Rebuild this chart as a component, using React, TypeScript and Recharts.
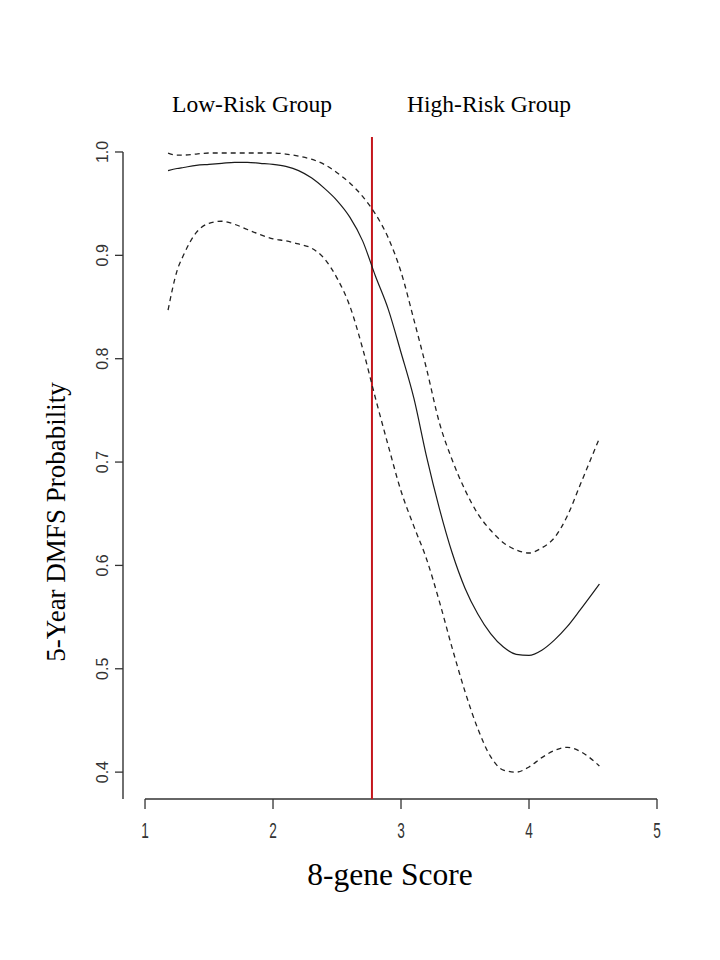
import { LineChart, Line, XAxis, YAxis, ReferenceLine } from "recharts";

// 8-gene score grid and the fitted 5-year DMFS probability with its band
const scores = [
  1.18, 1.25, 1.3, 1.4, 1.5, 1.6, 1.7, 1.8, 1.9, 2.0, 2.1, 2.2, 2.3, 2.4, 2.5,
  2.6, 2.7, 2.8, 2.9, 3.0, 3.1, 3.2, 3.3, 3.4, 3.5, 3.6, 3.7, 3.8, 3.9, 4.0,
  4.1, 4.2, 4.3, 4.4, 4.55,
];
const estimate = [
  0.982, 0.984, 0.985, 0.987, 0.988, 0.989, 0.99, 0.99, 0.989, 0.988, 0.986,
  0.982, 0.975, 0.965, 0.953, 0.937, 0.914, 0.88, 0.848, 0.806, 0.762, 0.705,
  0.655, 0.612, 0.578, 0.553, 0.534, 0.521, 0.514, 0.513, 0.518, 0.528, 0.541,
  0.557, 0.582,
];
const upperBand = [
  0.999, 0.997, 0.997, 0.998, 0.999, 0.999, 0.999, 0.999, 0.999, 0.999, 0.998,
  0.996, 0.993, 0.988, 0.98, 0.97, 0.957, 0.94, 0.917, 0.884, 0.838, 0.79,
  0.738, 0.702, 0.673, 0.65, 0.634, 0.622, 0.615, 0.612, 0.617, 0.627, 0.648,
  0.678, 0.723,
];
const lowerBand = [
  0.847, 0.885, 0.9, 0.922, 0.931, 0.933, 0.93, 0.925, 0.92, 0.916, 0.914,
  0.911, 0.907, 0.897, 0.878, 0.851, 0.81, 0.762, 0.716, 0.672, 0.638, 0.606,
  0.565, 0.52, 0.478, 0.442, 0.415, 0.402, 0.4, 0.405, 0.414, 0.421, 0.424,
  0.42, 0.406,
];

const xTicks = [1, 2, 3, 4, 5];
const yTicks = [0.4, 0.5, 0.6, 0.7, 0.8, 0.9, 1.0];
const cutoff = 2.773;
const groupLabels = ["Low-Risk Group", "High-Risk Group"];

const X_MIN = 0.828;
const Y_MIN = 0.374;
const Y_MAX = 1.0145;

const data = scores.map((s, i) => ({
  score: s,
  est: estimate[i],
  hi: upperBand[i],
  lo: lowerBand[i],
}));

const XTick = (props: any) => {
  const { x, y, payload } = props;
  return (
    <g transform={`translate(${x},${y})`}>
      <text
        transform="scale(0.62,1)"
        dy="0.72em"
        textAnchor="middle"
        fontFamily="'Liberation Sans', Arial, sans-serif"
        fontSize={22}
        fill="#333"
      >
        {payload.value}
      </text>
    </g>
  );
};

const YTick = (props: any) => {
  const { x, y, payload } = props;
  return (
    <text
      transform={`translate(${x},${y}) rotate(-90)`}
      textAnchor="middle"
      fontFamily="'Liberation Sans', Arial, sans-serif"
      fontSize={16}
      fill="#333"
    >
      {Number(payload.value).toFixed(1)}
    </text>
  );
};

const serif = "'Liberation Serif', 'Times New Roman', serif";

export default function App() {
  return (
    <div style={{ position: "absolute", left: 0, top: 0, width: 720, height: 960, background: "#fff" }}>
      <LineChart
        width={720}
        height={960}
        data={data}
        margin={{ top: 137, right: 63, bottom: 101, left: 63 }}
      >
        <XAxis
          type="number"
          dataKey="score"
          domain={[X_MIN, 5]}
          ticks={xTicks}
          allowDataOverflow
          axisLine={false}
          tickLine={{ stroke: "#333", strokeWidth: 1.3 }}
          tickSize={10}
          tickMargin={13}
          tick={<XTick />}
          height={60}
        />
        <YAxis
          type="number"
          domain={[Y_MIN, Y_MAX]}
          ticks={yTicks}
          allowDataOverflow
          axisLine={false}
          tickLine={{ stroke: "#333", strokeWidth: 1.3 }}
          tickSize={8}
          tickMargin={7}
          tick={<YTick />}
          width={60}
        />
        <ReferenceLine
          segment={[{ x: X_MIN, y: 1.0 }, { x: X_MIN, y: Y_MIN }]}
          stroke="#333"
          strokeWidth={1.4}
          ifOverflow="visible"
        />
        <ReferenceLine
          segment={[{ x: 1, y: Y_MIN }, { x: 5, y: Y_MIN }]}
          stroke="#333"
          strokeWidth={1.4}
          ifOverflow="visible"
        />
        <ReferenceLine x={cutoff} stroke="#c4161c" strokeWidth={2} ifOverflow="visible" />
        <Line
          type="monotone"
          dataKey="hi"
          stroke="#222"
          strokeWidth={1.3}
          strokeDasharray="5 4"
          dot={false}
          isAnimationActive={false}
        />
        <Line
          type="monotone"
          dataKey="est"
          stroke="#1a1a1a"
          strokeWidth={1.2}
          dot={false}
          isAnimationActive={false}
        />
        <Line
          type="monotone"
          dataKey="lo"
          stroke="#222"
          strokeWidth={1.3}
          strokeDasharray="5 4"
          dot={false}
          isAnimationActive={false}
        />
      </LineChart>
      <div style={{ position: "absolute", left: 252, top: 91, transform: "translateX(-50%)", fontFamily: serif, fontSize: 23.5, whiteSpace: "nowrap" }}>
        {groupLabels[0]}
      </div>
      <div style={{ position: "absolute", left: 489, top: 91, transform: "translateX(-50%)", fontFamily: serif, fontSize: 23.5, whiteSpace: "nowrap" }}>
        {groupLabels[1]}
      </div>
      <div style={{ position: "absolute", left: 390, top: 857, transform: "translateX(-50%)", fontFamily: serif, fontSize: 31.5, whiteSpace: "nowrap" }}>
        8-gene Score
      </div>
      <div
        style={{
          position: "absolute",
          left: 56,
          top: 522,
          transform: "translate(-50%,-50%) rotate(-90deg)",
          fontFamily: serif,
          fontSize: 27,
          whiteSpace: "nowrap",
        }}
      >
        5-Year DMFS Probability
      </div>
    </div>
  );
}
